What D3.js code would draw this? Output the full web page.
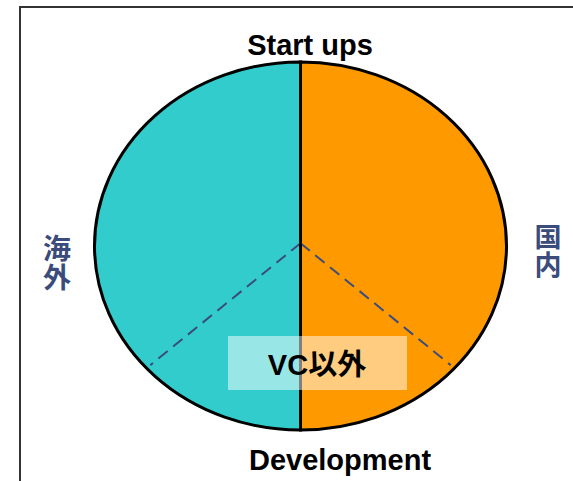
<!DOCTYPE html>
<html>
<head>
<meta charset="UTF-8">
<title>Start ups / Development</title>
<script src="https://cdn.jsdelivr.net/npm/d3@7"></script>
<style>
    body { margin: 0; background: #fff; }
    .lbl { font-family: "Liberation Sans", Arial, "Noto Sans CJK JP", sans-serif; font-weight: bold; }
    .side {
        font-family: "Noto Sans CJK JP", sans-serif; font-weight: bold; fill: #3b4c7c;
        writing-mode: vertical-rl; text-orientation: upright; letter-spacing: 1px;
    }
</style>
</head>
<body>
<div id="vis"></div>
<script>
    // two halves of the ellipse: right = domestic, left = overseas
    var regions = ["国内", "海外"];
    var shares = [50, 50];
    var colors = ["#ff9900", "#33cccc"];

    // stage split (degrees from top, clockwise) and labels
    var stages = ["Start ups", "Development"];
    var splitAngles = [131.6, -131.6];
    var boxLabel = "VC以外";

    var width = 573, height = 481;
    var cx = 300.5, cy = 246, rx = 206, ry = 184;

    var svg = d3.select("#vis").append("svg")
            .attr("width", width)
            .attr("height", height);

    // outer frame (runs off the right / bottom edges)
    svg.append("rect")
            .attr("x", 20)
            .attr("y", 7)
            .attr("width", 600)
            .attr("height", 520)
            .attr("fill", "none")
            .attr("stroke", "#333")
            .attr("stroke-width", 2);

    var pie = d3.pie().sort(null);
    var arc = d3.arc().innerRadius(0).outerRadius(1);

    var g = svg.append("g")
            .attr("transform", "translate(" + cx + "," + cy + ") scale(" + rx + "," + ry + ")");

    g.selectAll(".half")
            .data(pie(shares))
            .enter()
            .append("path")
            .attr("class", "half")
            .attr("d", arc)
            .attr("fill", function(d, i) { return colors[i]; })
            .attr("stroke", "black")
            .attr("stroke-width", 3)
            .attr("vector-effect", "non-scaling-stroke");

    // dashed split between start ups and development
    g.selectAll(".split")
            .data(splitAngles)
            .enter()
            .append("line")
            .attr("x1", 0)
            .attr("y1", -0.015)
            .attr("x2", function(d) { return 0.975 * Math.sin(d * Math.PI / 180); })
            .attr("y2", function(d) { return -0.975 * Math.cos(d * Math.PI / 180); })
            .attr("stroke", "#3b4c7c")
            .attr("stroke-width", 2)
            .attr("stroke-dasharray", "12,7")
            .attr("vector-effect", "non-scaling-stroke");

    // centre divider
    g.append("line")
            .attr("x1", 0).attr("y1", -1)
            .attr("x2", 0).attr("y2", 1)
            .attr("stroke", "black")
            .attr("stroke-width", 2.5)
            .attr("vector-effect", "non-scaling-stroke");

    svg.append("text")
            .attr("class", "lbl")
            .attr("x", 310).attr("y", 55)
            .attr("text-anchor", "middle")
            .style("font-size", "29px")
            .text(stages[0]);

    svg.append("text")
            .attr("class", "lbl")
            .attr("x", 340).attr("y", 470)
            .attr("text-anchor", "middle")
            .style("font-size", "29px")
            .text(stages[1]);

    svg.append("rect")
            .attr("x", 228).attr("y", 336)
            .attr("width", 179).attr("height", 54)
            .attr("fill", "white")
            .attr("fill-opacity", 0.5);

    svg.append("text")
            .attr("class", "lbl")
            .attr("x", 317).attr("y", 375)
            .attr("text-anchor", "middle")
            .style("font-size", "29px")
            .text(boxLabel);

    // vertical side labels
    svg.append("text")
            .attr("class", "side")
            .attr("x", 548).attr("y", 223)
            .style("font-size", "27px")
            .text(regions[0]);

    svg.append("text")
            .attr("class", "side")
            .attr("x", 57).attr("y", 234)
            .style("font-size", "28px")
            .text(regions[1]);
</script>
</body>
</html>
